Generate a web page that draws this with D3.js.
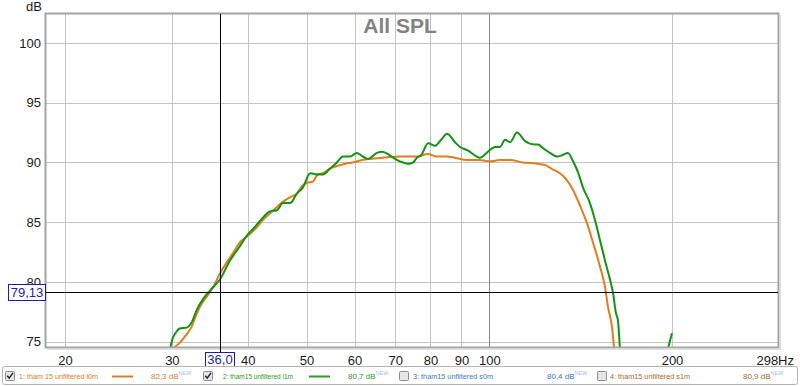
<!DOCTYPE html>
<html><head><meta charset="utf-8">
<script src="https://cdn.jsdelivr.net/npm/d3@7"></script>
<style>
html,body{margin:0;padding:0;background:#fff;}
svg{display:block;font-family:"Liberation Sans",Arial,sans-serif;}
</style></head>
<body>
<svg id="chart" width="800" height="386"></svg>
<script>
// ---- data ----
const title = "All SPL";
const xTicks = [20, 30, 40, 50, 60, 70, 80, 90, 100, 200];
const yTicks = [75, 80, 85, 90, 95, 100];
const cursorFreq = 36.0;
const cursorDb = 79.13;

const freq1 = [29.8, 30.4, 30.9, 31.7, 32.3, 33.0, 33.6, 34.3, 35.1, 36.0, 37.0, 37.8, 38.8, 39.9, 41.1, 42.4, 43.9, 45.7, 47.0, 48.2, 49.1, 50.1, 51.2, 52.2, 53.2, 54.7, 56.1, 57.9, 59.6, 61.7, 63.6, 66.8, 71.3, 76.0, 79.3, 82.0, 85.2, 87.8, 91.9, 96.5, 100.3, 104.1, 108.2, 113.6, 119.8, 123.5, 127.4, 130.8, 134.3, 137.4, 141.1, 144.9, 148.2, 152.2, 155.1, 156.9, 159.3, 160.5, 161.7];
const spl1 = [74.4, 74.6, 74.9, 75.6, 76.2, 77.4, 78.2, 78.8, 79.6, 80.7, 81.7, 82.4, 83.3, 83.8, 84.4, 85.2, 85.9, 86.7, 87.1, 87.4, 88.0, 88.3, 88.4, 89.0, 89.1, 89.5, 89.7, 89.9, 90.0, 90.2, 90.3, 90.4, 90.5, 90.5, 90.7, 90.5, 90.5, 90.4, 90.2, 90.2, 90.1, 90.2, 90.2, 90.0, 89.9, 89.8, 89.4, 89.1, 88.5, 87.7, 86.4, 84.9, 83.3, 81.3, 79.6, 77.9, 76.2, 74.56, 72.6];

const freq2 = [29.8, 30.1, 30.4, 30.9, 31.8, 32.4, 33.0, 33.8, 34.7, 36.0, 37.4, 38.6, 39.9, 41.1, 42.4, 43.5, 44.7, 45.7, 47.0, 48.2, 49.3, 50.7, 52.0, 53.2, 54.7, 56.1, 57.4, 59.0, 60.5, 61.9, 63.1, 65.3, 66.6, 68.6, 70.5, 72.1, 73.5, 74.9, 76.0, 77.2, 79.3, 81.4, 83.3, 85.2, 87.8, 89.5, 92.3, 96.5, 99.5, 102.2, 104.1, 106.2, 108.2, 111.1, 114.5, 118.9, 120.3, 122.6, 125.9, 129.3, 131.8, 134.8, 137.4, 140.0, 142.7, 146.5, 149.3, 152.2, 155.1, 158.1, 159.9, 161.7, 162.9, 164.2, 180, 197.0, 200.0];
const spl2 = [74.4, 75.3, 75.7, 76.1, 76.2, 76.7, 77.7, 78.6, 79.3, 80.2, 81.8, 82.8, 83.9, 84.6, 85.4, 85.9, 86.0, 86.6, 86.6, 87.4, 87.9, 89.1, 89.0, 89.0, 89.5, 90.0, 90.5, 90.5, 90.8, 90.5, 90.3, 90.8, 90.9, 90.6, 90.2, 90.0, 89.9, 90.0, 90.4, 90.6, 91.6, 91.4, 91.9, 92.4, 91.7, 91.3, 91.0, 90.4, 90.9, 91.3, 91.3, 91.9, 91.7, 92.5, 91.8, 91.5, 91.5, 91.2, 90.8, 90.5, 90.6, 90.8, 90.1, 89.2, 87.9, 86.6, 85.2, 83.5, 81.8, 80.2, 79.1, 77.4, 76.8, 74.4, 60, 74.4, 75.7];

const legendNames = ["1: tham 15 unfiltered l0m", "2: tham15 unfiltered l1m", "3: tham15 unfiltered s0m", "4: tham15 unfiltered s1m"];
const legendValues = ["82,3 dB", "80,7 dB", "80,4 dB", "80,9 dB"];
const legendChecked = [true, true, false, false];

// ---- layout ----
const svg = d3.select("#chart");
const L = 46, R = 778, T = 14, B = 347;
const x = d3.scaleLog().domain([18.61, 299.0]).range([L, R]);
const y = d3.scaleLinear().domain([74.556, 102.427]).range([B, T]);

// grid
const g = svg.append("g");
g.selectAll(".hg").data(yTicks).join("line")
  .attr("x1", L).attr("x2", R).attr("y1", d => Math.round(y(d)) + 0.5).attr("y2", d => Math.round(y(d)) + 0.5)
  .attr("stroke", "#c4c4c4").attr("stroke-width", 1);
g.selectAll(".vg").data(xTicks).join("line")
  .attr("y1", T).attr("y2", B).attr("x1", d => Math.round(x(d)) + 0.5).attr("x2", d => Math.round(x(d)) + 0.5)
  .attr("stroke", d => d === 100 ? "#8a8a8a" : "#c4c4c4").attr("stroke-width", 1);

// title
svg.append("text").attr("x", 400).attr("y", 33).attr("text-anchor", "middle")
  .attr("font-size", 21).attr("font-weight", "bold").attr("fill", "#828282").text(title);

// curves
svg.append("clipPath").attr("id", "clip").append("rect").attr("x", L).attr("y", T).attr("width", R - L).attr("height", B - T);
const line = d3.line().x(d => x(d[0])).y(d => y(d[1])).curve(d3.curveMonotoneX);
const series = [
  {f: freq1, v: spl1, color: "#e27d1e"},
  {f: freq2, v: spl2, color: "#139313"}
];
const cg = svg.append("g").attr("clip-path", "url(#clip)");
series.forEach(s => {
  cg.append("path").datum(s.f.map((f, i) => [f, s.v[i]]))
    .attr("d", line).attr("fill", "none").attr("stroke", s.color).attr("stroke-width", 2)
    .attr("stroke-linejoin", "round");
});

// plot border (3D look)
svg.append("rect").attr("x", L - 0.5).attr("y", T - 0.5).attr("width", R - L + 1).attr("height", B - T + 1)
  .attr("fill", "none").attr("stroke", "#a4a4a4").attr("stroke-width", 2);
svg.append("path").attr("d", `M${R + 2},${T + 1} V${B + 2} H${L + 1}`)
  .attr("fill", "none").attr("stroke", "#d6d6d6").attr("stroke-width", 1.5);

// crosshair
svg.append("line").attr("x1", L).attr("x2", R).attr("y1", Math.round(y(cursorDb)) + 0.5).attr("y2", Math.round(y(cursorDb)) + 0.5)
  .attr("stroke", "#000").attr("stroke-width", 1);
svg.append("line").attr("y1", T).attr("y2", 352).attr("x1", Math.round(x(cursorFreq)) + 0.5).attr("x2", Math.round(x(cursorFreq)) + 0.5)
  .attr("stroke", "#000").attr("stroke-width", 1);

// axes labels
const xAxis = d3.axisBottom(x).tickValues(xTicks).tickFormat(d3.format("d")).tickSize(0).tickPadding(0);
const xa = svg.append("g").attr("transform", `translate(0,${B + 9})`).call(xAxis);
xa.select(".domain").remove();
xa.selectAll("text").attr("font-size", 13).attr("fill", "#1a1a1a").attr("font-family", "Liberation Sans, Arial, sans-serif").attr("dy", "0.71em");
svg.append("text").attr("x", 794).attr("y", 365).attr("text-anchor", "end").attr("font-size", 13).attr("fill", "#1a1a1a").text("298Hz");

const yAxis = d3.axisLeft(y).tickValues(yTicks).tickFormat(d3.format("d")).tickSize(0).tickPadding(0);
const ya = svg.append("g").attr("transform", `translate(41,0)`).call(yAxis);
ya.select(".domain").remove();
ya.selectAll("text").attr("font-size", 13).attr("fill", "#1a1a1a").attr("font-family", "Liberation Sans, Arial, sans-serif");
svg.append("text").attr("x", 42).attr("y", 11).attr("text-anchor", "end").attr("font-size", 13).attr("fill", "#1a1a1a").text("dB");

// cursor value boxes
function valBox(cx, cy, w, h, txt) {
  svg.append("rect").attr("x", cx + 0.5).attr("y", cy + 0.5).attr("width", w).attr("height", h)
    .attr("fill", "#fff").attr("stroke", "#1c1cb4").attr("stroke-width", 1);
  svg.append("text").attr("x", cx + w / 2 + 0.5).attr("y", cy + h - 3).attr("text-anchor", "middle")
    .attr("font-size", 13).attr("fill", "#1c1cb4").text(txt);
}
valBox(8, 284, 37, 16, d3.format(".2f")(cursorDb).replace(".", ","));
valBox(205, 352, 29, 15, d3.format(".1f")(cursorFreq).replace(".", ","));

// legend
svg.append("rect").attr("x", 2.5).attr("y", 366.5).attr("width", 795).attr("height", 18).attr("rx", 2)
  .attr("fill", "#fff").attr("stroke", "#b4b4b4");
const legColors = ["#e07a22", "#2a9a2a", "#3c78c8", "#b0682e"];
const cbX = [5, 203, 399, 597];
const nameX = [19, 223, 413, 610];
const nameW = [79, 70, 80, 80];
const sampleX = [112, 309, null, null];
const valX = [151, 348, 547, 743];
const ly = 376;
legendNames.forEach((n, i) => {
  const cb = svg.append("g").attr("transform", `translate(${cbX[i]},${ly - 5})`);
  cb.append("rect").attr("x", 0.5).attr("y", 0.5).attr("width", 9).attr("height", 9).attr("rx", 1)
    .attr("fill", "#e6e6e6").attr("stroke", "#8c8c8c");
  if (legendChecked[i]) {
    cb.append("path").attr("d", "M2.2,4.8 L4.2,7.2 L8,1.8").attr("fill", "none").attr("stroke", "#222").attr("stroke-width", 1.4);
  }
  svg.append("text").attr("x", nameX[i]).attr("y", ly + 3).attr("font-size", 8).attr("fill", legColors[i])
    .attr("textLength", nameW[i]).attr("lengthAdjust", "spacingAndGlyphs").text(n);
  if (sampleX[i] !== null) {
    svg.append("line").attr("x1", sampleX[i]).attr("x2", sampleX[i] + 21).attr("y1", ly + 0.5).attr("y2", ly + 0.5)
      .attr("stroke", legColors[i]).attr("stroke-width", 2);
  }
  const t = svg.append("text").attr("x", valX[i]).attr("y", ly + 3).attr("font-size", 8).attr("fill", legColors[i]);
  t.append("tspan").text(legendValues[i]);
  t.append("tspan").attr("font-size", 5.5).attr("dy", -4).attr("fill", "#a9bdf2").text("NEW");
});
</script>
</body></html>
